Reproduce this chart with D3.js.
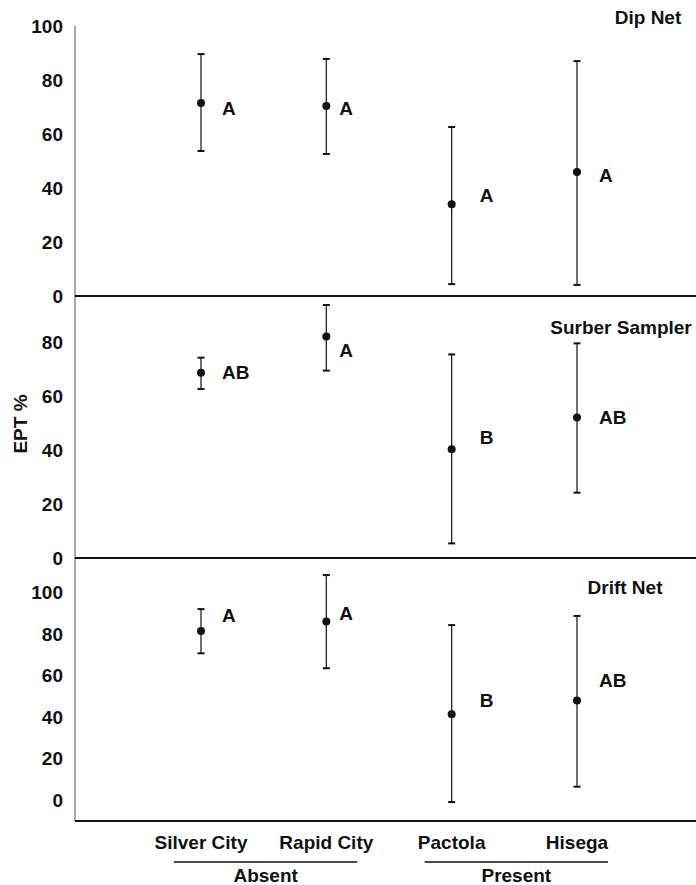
<!DOCTYPE html>
<html>
<head>
<meta charset="utf-8">
<script src="https://cdn.jsdelivr.net/npm/d3@7"></script>
<style>
  body { margin: 0; background: #fff; }
  text { font-family: "Liberation Sans", Arial, sans-serif; font-weight: bold; fill: #111; }
</style>
</head>
<body>
<div id="chart"></div>
<script>
const SITES = ["Silver City", "Rapid City", "Pactola", "Hisega"];
const GROUP_NAMES = ["Absent", "Present"];
const GROUP_SITES = [["Silver City", "Rapid City"], ["Pactola", "Hisega"]];
const PANEL_NAMES = ["Dip Net", "Surber Sampler", "Drift Net"];

// EPT % means and range ends, per site
const DIP_MEAN = [71.5, 70.4, 34.0, 45.9];
const DIP_HI = [89.6, 87.8, 62.6, 87.0];
const DIP_LO = [53.7, 52.6, 4.4, 4.1];
const DIP_LETTERS = ["A", "A", "A", "A"];
const DIP_LETTER_AT = [69.6, 69.6, 37.4, 44.8];

const SURBER_MEAN = [68.6, 82.0, 40.3, 52.0];
const SURBER_HI = [74.2, 93.7, 75.4, 79.5];
const SURBER_LO = [62.6, 69.4, 5.4, 24.2];
const SURBER_LETTERS = ["AB", "A", "B", "AB"];
const SURBER_LETTER_AT = [68.9, 77.0, 44.8, 52.2];

const DRIFT_MEAN = [81.4, 86.0, 41.3, 47.9];
const DRIFT_HI = [92.0, 108.4, 84.3, 88.7];
const DRIFT_LO = [70.7, 63.5, -1.0, 6.4];
const DRIFT_LETTERS = ["A", "A", "B", "AB"];
const DRIFT_LETTER_AT = [89.0, 90.0, 48.2, 57.8];

const TICKS_DIP = [0, 20, 40, 60, 80, 100];
const TICKS_SURBER = [0, 20, 40, 60, 80];
const TICKS_DRIFT = [0, 20, 40, 60, 80, 100];

// layout
const W = 696, H = 885;
const AXIS_X = 75;
const LETTER_DX = [21, 13, 28, 22];
const FS = "19px";

const panels = [
  {name: PANEL_NAMES[0], mean: DIP_MEAN, hi: DIP_HI, lo: DIP_LO, letters: DIP_LETTERS, letterAt: DIP_LETTER_AT,
   ticks: TICKS_DIP, y: d3.scaleLinear().domain([0, 100]).range([296, 26]), base: 296, title: [648, 24]},
  {name: PANEL_NAMES[1], mean: SURBER_MEAN, hi: SURBER_HI, lo: SURBER_LO, letters: SURBER_LETTERS, letterAt: SURBER_LETTER_AT,
   ticks: TICKS_SURBER, y: d3.scaleLinear().domain([0, 100]).range([558, 288]), base: 558, title: [621, 334]},
  {name: PANEL_NAMES[2], mean: DRIFT_MEAN, hi: DRIFT_HI, lo: DRIFT_LO, letters: DRIFT_LETTERS, letterAt: DRIFT_LETTER_AT,
   ticks: TICKS_DRIFT, y: d3.scaleLinear().domain([0, 100]).range([800, 592.5]), base: 821, title: [625, 594]}
];

var x = d3.scalePoint().domain(SITES).range([201, 577]);

var svg = d3.select("#chart").append("svg")
    .attr("width", W)
    .attr("height", H);

// left axis line
svg.append("line")
    .attr("x1", AXIS_X).attr("x2", AXIS_X)
    .attr("y1", 26).attr("y2", 821)
    .style("stroke", "#555")
    .style("stroke-width", 1);

panels.forEach((p, k) => {
  let g = svg.append("g");

  // tick labels
  let axis = d3.axisLeft(p.y).tickValues(p.ticks).tickSize(0).tickPadding(12);
  let ag = g.append("g")
      .attr("transform", "translate(" + AXIS_X + ",0)")
      .call(axis);
  ag.select(".domain").remove();
  ag.selectAll("text")
      .style("font-size", FS)
      .style("font-family", "'Liberation Sans', Arial, sans-serif")
      .style("font-weight", "bold")
      .attr("fill", "#111");

  // panel baseline
  g.append("line")
      .attr("x1", AXIS_X).attr("x2", W)
      .attr("y1", p.base).attr("y2", p.base)
      .style("stroke", "#111")
      .style("stroke-width", 2);

  // panel title
  g.append("text")
      .attr("x", p.title[0]).attr("y", p.title[1])
      .style("text-anchor", "middle")
      .style("font-size", FS)
      .text(p.name);

  SITES.forEach((s, i) => {
    let cx = x(s);
    g.append("line")
        .attr("x1", cx).attr("x2", cx)
        .attr("y1", p.y(p.hi[i])).attr("y2", p.y(p.lo[i]))
        .style("stroke", "#222")
        .style("stroke-width", 1.3);
    [p.hi[i], p.lo[i]].forEach((v) => {
      g.append("line")
          .attr("x1", cx - 3.5).attr("x2", cx + 3.5)
          .attr("y1", p.y(v)).attr("y2", p.y(v))
          .style("stroke", "#111")
          .style("stroke-width", 2);
    });
    g.append("circle")
        .attr("cx", cx).attr("cy", p.y(p.mean[i]))
        .attr("r", 4)
        .style("fill", "#111");
    g.append("text")
        .attr("x", cx + LETTER_DX[i])
        .attr("y", p.y(p.letterAt[i]))
        .attr("dy", "0.36em")
        .style("font-size", FS)
        .text(p.letters[i]);
  });
});

// category labels
svg.selectAll(".cat")
  .data(SITES)
  .enter().append("text")
    .attr("class", "cat")
    .attr("x", (d) => x(d))
    .attr("y", 849)
    .style("text-anchor", "middle")
    .style("font-size", FS)
    .text((d) => d);

// group lines and labels
GROUP_NAMES.forEach((name, i) => {
  let a = x(GROUP_SITES[i][0]), b = x(GROUP_SITES[i][1]);
  svg.append("line")
      .attr("x1", a - 27).attr("x2", b + 31)
      .attr("y1", 862).attr("y2", 862)
      .style("stroke", "#111")
      .style("stroke-width", 1.3);
  svg.append("text")
      .attr("x", (a + b) / 2 + 2)
      .attr("y", 882)
      .style("text-anchor", "middle")
      .style("font-size", FS)
      .text(name);
});

// y title
svg.append("text")
    .attr("transform", "translate(27,424) rotate(-90)")
    .style("text-anchor", "middle")
    .style("font-size", FS)
    .text("EPT %");
</script>
</body>
</html>
